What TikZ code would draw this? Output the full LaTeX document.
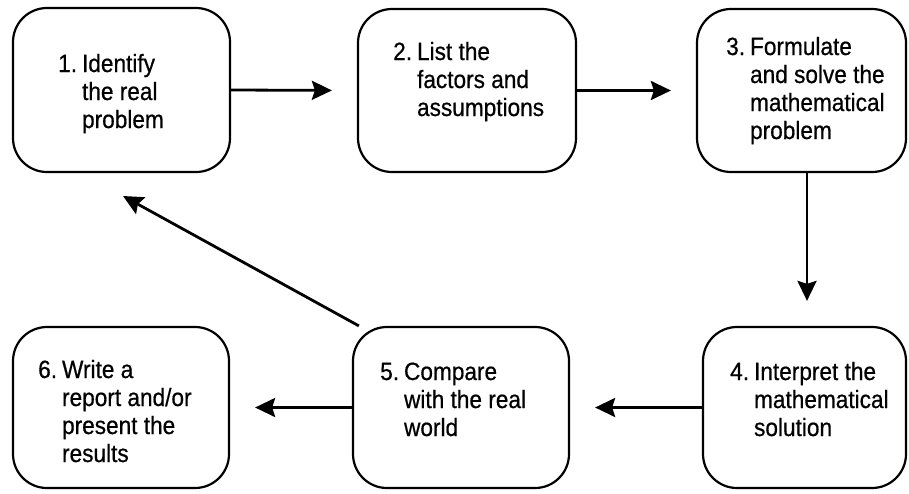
\documentclass[tikz,border=0pt]{standalone}
\usepackage{fontspec}
\setmainfont[FakeStretch=0.905,FakeBold=0.6]{Liberation Sans}
\usetikzlibrary{arrows.meta}
\newcommand{\steptext}[2]{\begin{tabular}[t]{@{}l@{\hspace{5pt}}l@{}}#1 & #2\end{tabular}}
\tikzset{
  stepbox/.style={draw, line width=2.2pt, rounded corners=34pt, inner sep=0pt},
  steplabel/.style={anchor=base west, inner sep=0pt, font=\fontsize{25}{28}\selectfont},
  flow/.style={line width=2.8pt, -{Stealth[length=20pt,width=19pt,inset=3pt]}, shorten >=25pt}
}
\begin{document}
\begin{tikzpicture}[x=1pt,y=-1pt]
  \useasboundingbox (0,0) rectangle (909,493);
  % the six steps
  \node[stepbox, minimum width=217pt, minimum height=164pt] (b1) at (121.5,90) {};
  \node[stepbox, minimum width=218pt, minimum height=163pt] (b2) at (467,90.5) {};
  \node[stepbox, minimum width=209pt, minimum height=163pt] (b3) at (801.5,90.5) {};
  \node[stepbox, minimum width=203pt, minimum height=161pt] (b4) at (804.5,407.5) {};
  \node[stepbox, minimum width=216pt, minimum height=161pt] (b5) at (461,407.5) {};
  \node[stepbox, minimum width=216pt, minimum height=161pt] (b6) at (121,407.5) {};
  % their labels
  \node[steplabel] (t1) at (58,72) {\steptext{1.}{Identify\\ & the real\\ & problem}};
  \node[steplabel] (t2) at (393,60) {\steptext{2.}{List the\\ & factors and\\ & assumptions}};
  \node[steplabel] (t3) at (726,55) {\steptext{3.}{Formulate\\ & and solve the\\ & mathematical\\ & problem}};
  \node[steplabel] (t4) at (730,380) {\steptext{4.}{Interpret the\\ & mathematical\\ & solution}};
  \node[steplabel] (t5) at (380,380) {\steptext{5.}{Compare\\ & with the real\\ & world}};
  \node[steplabel] (t6) at (38,378) {\steptext{6.}{Write a\\ & report and/or\\ & present the\\ & results}};
  % connectors
  \draw[flow] (b1.east) -- (b2.west);
  \draw[flow] (b2.east) -- (b3.west);
  \draw[flow] ([xshift=5.5pt]b3.south) -- ([xshift=5.5pt]b3.south |- b4.north);
  \draw[flow] (b4.west) -- (b5.east);
  \draw[flow] (b5.west) -- (b6.east);
  \coordinate (back) at (123,196);
  \draw[flow, shorten >=0pt] ([xshift=7pt]b5.north west) -- (back);
\end{tikzpicture}
\end{document}
